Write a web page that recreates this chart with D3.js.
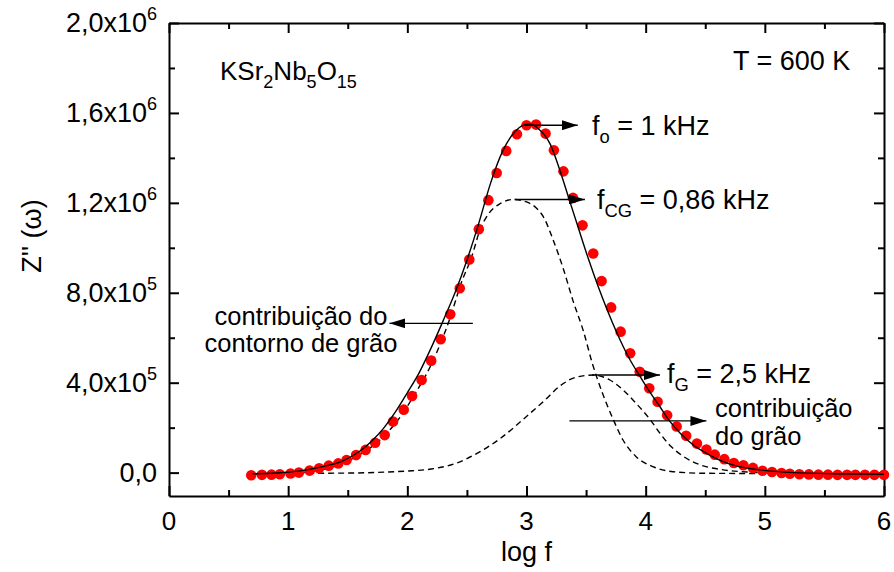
<!DOCTYPE html>
<html>
<head>
<meta charset="utf-8">
<script src="https://cdn.jsdelivr.net/npm/d3@7"></script>
<style>
  body { margin: 0; background: #fff; }
  svg text { font-family: "Liberation Sans", Arial, sans-serif; fill: #000; }
</style>
</head>
<body>
<svg id="chart" width="894" height="572"></svg>
<script>
// measured points: log f and Z'' (ohm)
const logF = [0.69, 0.78, 0.86, 0.93, 1.02, 1.09, 1.18, 1.26, 1.34, 1.42, 1.49, 1.57, 1.65, 1.73, 1.81, 1.88,
  1.97, 2.04, 2.12, 2.20, 2.28, 2.36, 2.44, 2.52, 2.60, 2.68, 2.75, 2.83, 2.92, 3.00, 3.08, 3.16, 3.23, 3.31,
  3.39, 3.47, 3.56, 3.63, 3.71, 3.79, 3.87, 3.95, 4.03, 4.10, 4.18, 4.26, 4.34, 4.43, 4.51, 4.58, 4.66, 4.74,
  4.82, 4.90, 4.98, 5.06, 5.14, 5.21, 5.29, 5.37, 5.45, 5.53, 5.61, 5.69, 5.76, 5.84, 5.92, 6.00];
const zImag = [-12000, -10000, -9000, -7000, -4000, 0, 9000, 19000, 31000, 41000, 56000, 78000, 101000, 133000,
  167000, 227000, 280000, 341000, 412000, 498000, 593000, 704000, 820000, 948000, 1083000, 1212000, 1333000,
  1431000, 1505000, 1545000, 1548000, 1508000, 1434000, 1340000, 1222000, 1100000, 975000, 852000, 735000,
  627000, 531000, 449000, 375000, 315000, 255000, 205000, 164000, 129000, 103000, 80000, 60000, 43000, 33000,
  21000, 8000, 3000, -2000, -5000, -7000, -8000, -9000, -9000, -10000, -10000, -10000, -10000, -10000, -10000];

// fit (sum of both contributions)
const fitX = [0.70, 0.90, 1.10, 1.30, 1.45, 1.60, 1.70, 1.80, 1.90, 2.00, 2.10, 2.20, 2.30, 2.40, 2.50, 2.60,
  2.70, 2.80, 2.90, 2.97, 3.02, 3.10, 3.20, 3.28, 3.36, 3.44, 3.52, 3.60, 3.68, 3.76, 3.85, 3.95, 4.03, 4.12,
  4.20, 4.29, 4.40, 4.51, 4.62, 4.76, 4.96, 5.24, 5.60, 6.00];
const fitY = [-5000, -2000, 8000, 28000, 50000, 95000, 140000, 197000, 270000, 355000, 445000, 555000, 675000,
  800000, 945000, 1110000, 1290000, 1430000, 1515000, 1545000, 1550000, 1530000, 1460000, 1345000, 1212000,
  1080000, 950000, 830000, 720000, 620000, 520000, 430000, 362000, 293000, 230000, 175000, 123000, 86000,
  56000, 30000, 12000, 0, -5000, -7000];

// grain boundary contribution (contorno de grao)
const cgX = [0.70, 1.00, 1.20, 1.40, 1.60, 1.80, 1.95, 2.05, 2.20, 2.36, 2.45, 2.54, 2.61, 2.68, 2.78, 2.89,
  3.00, 3.08, 3.15, 3.22, 3.31, 3.39, 3.48, 3.55, 3.64, 3.73, 3.81, 3.92, 4.06, 4.23, 4.50, 5.00, 5.50, 6.00];
const cgY = [-7000, -3000, 6000, 30000, 80000, 160000, 255000, 338000, 480000, 690000, 840000, 960000, 1080000,
  1150000, 1197000, 1215000, 1204000, 1178000, 1130000, 1040000, 905000, 765000, 625000, 490000, 350000,
  234000, 145000, 71000, 27000, 4000, -3000, -4000, -5000, -5000];

// grain contribution (grao)
const gX = [1.00, 1.50, 1.80, 2.00, 2.20, 2.40, 2.60, 2.80, 3.00, 3.15, 3.28, 3.42, 3.56, 3.70, 3.81, 3.92,
  4.04, 4.12, 4.20, 4.32, 4.46, 4.62, 4.85, 5.20, 6.00];
const gY = [-3000, -2000, 2000, 7000, 16000, 40000, 90000, 160000, 250000, 320000, 385000, 425000, 434000,
  412000, 368000, 308000, 234000, 175000, 123000, 71000, 34000, 15000, 3000, -2000, -4000];

const xTicks = [0, 1, 2, 3, 4, 5, 6];
const xMinor = [0.5, 1.5, 2.5, 3.5, 4.5, 5.5];
const yTicks = [0, 4e5, 8e5, 1.2e6, 1.6e6, 2e6];
const yMinor = [2e5, 6e5, 1e6, 1.4e6, 1.8e6];
const yTickMant = ["0,0", "4,0x10", "8,0x10", "1,2x10", "1,6x10", "2,0x10"];
const yTickExp = ["", "5", "5", "6", "6", "6"];

const svg = d3.select("#chart");
const plotLeft = 169, plotRight = 884, plotTop = 23, plotBottom = 496;

const x = d3.scaleLinear().domain([0, 6]).range([plotLeft, plotRight]);
const y = d3.scaleLinear().domain([-1.04e5, 2e6]).range([plotBottom, plotTop]);

// axes (ticks pointing inward, mirrored on top and right)
function drawAxis(axisFn, scale, transform, major, minor) {
  svg.append("g").attr("transform", transform)
    .call(axisFn(scale).tickValues(major).tickSizeInner(-10).tickSizeOuter(0).tickFormat(""))
    .call(g => g.select(".domain").attr("stroke-width", 2))
    .call(g => g.selectAll(".tick line").attr("stroke-width", 2));
  svg.append("g").attr("transform", transform)
    .call(axisFn(scale).tickValues(minor).tickSizeInner(-6).tickSizeOuter(0).tickFormat(""))
    .call(g => g.select(".domain").remove())
    .call(g => g.selectAll(".tick line").attr("stroke-width", 2));
}
drawAxis(d3.axisBottom, x, `translate(0,${plotBottom})`, xTicks, xMinor);
drawAxis(d3.axisTop, x, `translate(0,${plotTop})`, xTicks, xMinor);
drawAxis(d3.axisLeft, y, `translate(${plotLeft},0)`, yTicks, yMinor);
drawAxis(d3.axisRight, y, `translate(${plotRight},0)`, yTicks, yMinor);

// x tick labels
svg.append("g").selectAll("text").data(xTicks).join("text")
  .attr("x", d => x(d)).attr("y", 530)
  .attr("text-anchor", "middle").attr("font-size", 26)
  .text(d => d);

// y tick labels with superscript exponent
const yl = svg.append("g").selectAll("text").data(yTicks).join("text")
  .attr("x", 157).attr("y", d => y(d) + 9)
  .attr("text-anchor", "end").attr("font-size", 27);
yl.append("tspan").text((d, i) => yTickMant[i]);
yl.append("tspan").attr("dy", -12).attr("font-size", 18).text((d, i) => yTickExp[i]);

// axis titles
svg.append("text").attr("x", x(3)).attr("y", 561).attr("text-anchor", "middle")
  .attr("font-size", 27).text("log f");
svg.append("text").attr("transform", "translate(41,236) rotate(-90)").attr("text-anchor", "middle")
  .attr("font-size", 27).text("Z'' (\u03c9)");

// curves
const line = d3.line().x(d => x(d[0])).y(d => y(d[1])).curve(d3.curveMonotoneX);
svg.append("path").datum(d3.zip(cgX, cgY)).attr("d", line)
  .attr("fill", "none").attr("stroke", "#000").attr("stroke-width", 1.4).attr("stroke-dasharray", "6,4");
svg.append("path").datum(d3.zip(gX, gY)).attr("d", line)
  .attr("fill", "none").attr("stroke", "#000").attr("stroke-width", 1.4).attr("stroke-dasharray", "6,4");

// data points
svg.append("g").selectAll("circle").data(d3.zip(logF, zImag)).join("circle")
  .attr("cx", d => x(d[0])).attr("cy", d => y(d[1])).attr("r", 5.3)
  .attr("fill", "#ff0000");

svg.append("path").datum(d3.zip(fitX, fitY)).attr("d", line)
  .attr("fill", "none").attr("stroke", "#000").attr("stroke-width", 1.4);

// arrows
svg.append("defs").append("marker").attr("id", "head")
  .attr("viewBox", "0 0 16 10").attr("refX", 16).attr("refY", 5)
  .attr("markerWidth", 16).attr("markerHeight", 10).attr("markerUnits", "userSpaceOnUse")
  .attr("orient", "auto")
  .append("path").attr("d", "M0,0 L16,5 L0,10 Z").attr("fill", "#000");

const arrows = [
  [2.97, 3.43, 1.545e6],
  [2.90, 3.49, 1.215e6],
  [2.55, 1.85, 6.64e5],
  [3.55, 4.12, 4.34e5],
  [3.36, 4.51, 2.3e5]
];
svg.append("g").selectAll("line").data(arrows).join("line")
  .attr("x1", d => x(d[0])).attr("x2", d => x(d[1]))
  .attr("y1", d => y(d[2])).attr("y2", d => y(d[2]))
  .attr("stroke", "#000").attr("stroke-width", 1.4).attr("marker-end", "url(#head)");

// annotations
function subText(px, py, main, sub, rest, size) {
  const t = svg.append("text").attr("x", px).attr("y", py).attr("font-size", size);
  t.append("tspan").text(main);
  t.append("tspan").attr("dy", 8).attr("font-size", size * 0.68).text(sub);
  t.append("tspan").attr("dy", -8).text(rest);
  return t;
}
subText(592, 135, "f", "o", " = 1 kHz", 27);
subText(597, 209, "f", "CG", " = 0,86 kHz", 27);
subText(667, 383, "f", "G", " = 2,5 kHz", 27);

const formula = svg.append("text").attr("x", 220).attr("y", 80).attr("font-size", 26);
[["KSr", 0], ["2", 1], ["Nb", 0], ["5", 1], ["O", 0], ["15", 1]].forEach(([s, isSub], i, arr) => {
  const prev = i > 0 ? arr[i - 1][1] : 0;
  formula.append("tspan").attr("dy", isSub === prev ? 0 : (isSub ? 8 : -8))
    .attr("font-size", isSub ? 18 : 26).text(s);
});

svg.append("text").attr("x", 733).attr("y", 70).attr("font-size", 27).text("T = 600 K");

svg.append("text").attr("x", 301).attr("y", 325).attr("text-anchor", "middle").attr("font-size", 25.5)
  .text("contribuição do");
svg.append("text").attr("x", 301).attr("y", 352).attr("text-anchor", "middle").attr("font-size", 25.5)
  .text("contorno de grão");
svg.append("text").attr("x", 715).attr("y", 417).attr("font-size", 25.5).text("contribuição");
svg.append("text").attr("x", 715).attr("y", 445).attr("font-size", 25.5).text("do grão");
</script>
</body>
</html>
